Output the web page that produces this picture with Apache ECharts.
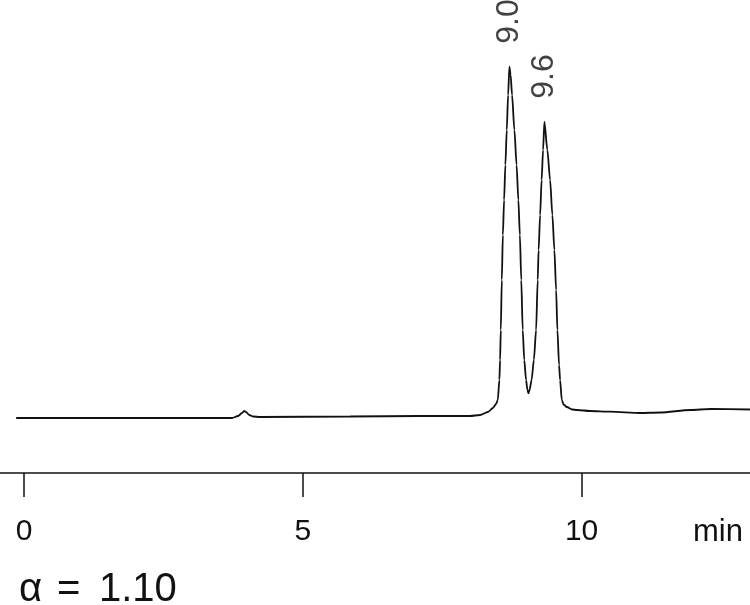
<!DOCTYPE html>
<html>
<head>
<meta charset="utf-8">
<title>Chromatogram</title>
<script src="https://cdn.jsdelivr.net/npm/echarts@6/dist/echarts.min.js"></script>
<style>
  html, body { margin: 0; padding: 0; background: #fff; }
  #chart { width: 750px; height: 605px; }
</style>
</head>
<body>
<div id="chart"></div>
<script>
// retention time (min) and detector signal
var times = [
  -0.14, 1.36, 3.16, 3.73, 3.84, 3.91, 3.95, 3.98, 4.04, 4.11, 4.23,
  5.85, 7.10, 8.00, 8.18, 8.32, 8.41,
  8.466, 8.497, 8.526, 8.538, 8.551, 8.569, 8.588, 8.610, 8.633, 8.658, 8.682, 8.705,
  8.727, 8.753, 8.795, 8.834, 8.866, 8.893, 8.918, 8.944, 8.972, 9.004, 9.029, 9.046,
  9.067, 9.103, 9.144, 9.184, 9.213, 9.229, 9.256, 9.283, 9.309, 9.333,
  9.386, 9.435, 9.476, 9.512, 9.543, 9.566, 9.596, 9.614, 9.645, 9.677, 9.735,
  9.83, 9.92, 10.15, 10.51, 11.05, 11.41, 11.95, 12.31, 13.02
];
var signal = [
  0, 0, 0, 0, 2, 5, 7, 6, 3, 1.5, 1,
  1.5, 2, 2, 3, 6, 10,
  14, 18, 38, 58, 88, 138, 183, 218, 253, 288, 323, 351.3,
  343, 323, 288, 253, 218, 183, 138, 88, 58, 38, 28, 24.7,
  28, 38, 58, 88, 138, 168, 203, 238, 268, 296.3,
  268, 238, 203, 168, 128, 88, 53, 38, 18, 13.5, 11,
  8.5, 8, 7, 6.3, 5, 5.5, 8, 9, 8.5
];

// labelled peaks
var peakTimes = [8.705, 9.333];
var peakHeights = [351.3, 296.3];
var peakLabels = ['9.0', '9.6'];

var tickValues = [0, 5, 10];

var trace = times.map(function (t, i) { return [t, signal[i]]; });
var peaks = peakTimes.map(function (t, i) {
  return { value: [t, peakHeights[i]], name: peakLabels[i] };
});

var ink = '#111';
var font = 'Liberation Sans, Arial, sans-serif';

var myChart = echarts.init(document.getElementById('chart'));
myChart.setOption({
  animation: false,
  backgroundColor: '#fff',
  grid: { left: 0, right: 0, top: 0, bottom: 132 },
  xAxis: {
    type: 'value',
    min: -0.43,
    max: 13.02,
    splitLine: { show: false },
    axisLine: { onZero: false, lineStyle: { color: ink, width: 1.5 } },
    axisTick: {
      customValues: tickValues,
      length: 24,
      lineStyle: { color: ink, width: 1.5 }
    },
    axisLabel: {
      customValues: tickValues,
      margin: 44,
      color: ink,
      fontSize: 30,
      fontFamily: font
    }
  },
  yAxis: {
    type: 'value',
    min: -55,
    max: 418,
    show: false
  },
  graphic: [
    {
      type: 'text', left: 693, top: 517,
      style: { text: 'min', fill: ink, fontSize: 31, fontFamily: font }
    },
    {
      type: 'text', left: 19, top: 570,
      style: { text: 'α', fill: ink, fontSize: 40, fontFamily: font }
    },
    {
      type: 'text', left: 57, top: 570,
      style: { text: '=', fill: ink, fontSize: 40, fontFamily: font }
    },
    {
      type: 'text', left: 99, top: 570,
      style: { text: '1.10', fill: ink, fontSize: 40, fontFamily: font }
    }
  ],
  series: [
    {
      type: 'line',
      data: trace,
      showSymbol: false,
      smooth: 0.25,
      smoothMonotone: 'x',
      lineStyle: { color: ink, width: 1.8 }
    },
    {
      type: 'scatter',
      data: peaks,
      symbolSize: 0,
      label: {
        show: true,
        position: 'top',
        distance: 21,
        rotate: 90,
        align: 'left',
        verticalAlign: 'middle',
        offset: [2, 0],
        formatter: function (p) { return p.name; },
        color: ink,
        fontSize: 32,
        fontFamily: font
      }
    }
  ]
});
</script>
</body>
</html>
